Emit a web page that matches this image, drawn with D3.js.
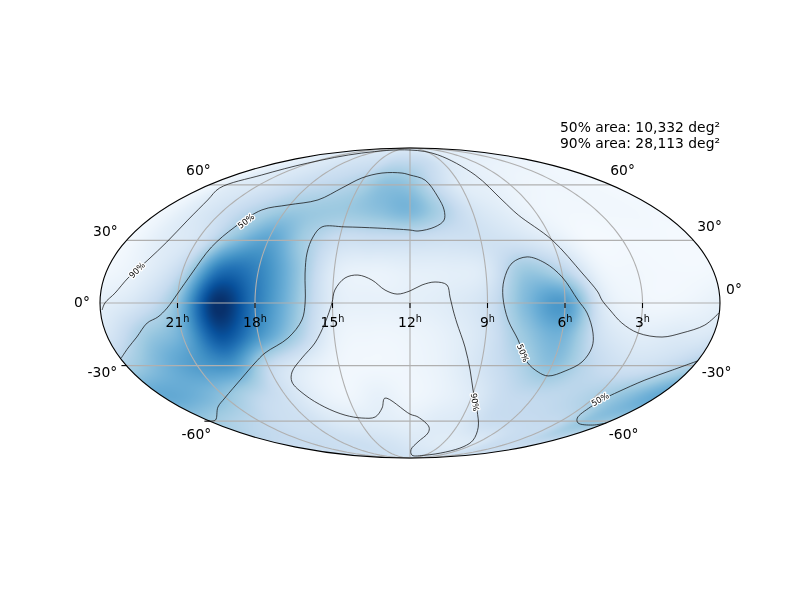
<!DOCTYPE html>
<html><head><meta charset="utf-8">
<script src="https://cdn.jsdelivr.net/npm/d3@7"></script>
<style>
html,body{margin:0;padding:0;background:#fff}
#wrap{position:relative;width:800px;height:600px;overflow:hidden}
canvas,svg{position:absolute;left:0;top:0}
text{font-family:"DejaVu Sans",sans-serif;fill:#000}
</style></head><body><div id="wrap"><canvas id="heat" width="800" height="600"></canvas><svg id="chart" width="800" height="600"></svg></div>
<script>
// Probability density (0..1 of colour range)
const gridRA = [0,1.5,3,4.5,6,7.5,9,10.5,12,13.5,15,16.5,18,19.5,21,22.5,24];
const gridDec = [90,75,60,45,30,15,0,-15,-30,-45,-60,-75,-90];
const rowN90 = [.13,.13,.13,.13,.13,.13,.13,.13,.13,.13,.13,.13,.13,.13,.13,.13,.13];
const rowN75 = [.05,.05,.06,.07,.08,.1,.16,.24,.27,.27,.22,.2,.18,.15,.13,.1,.05];
const rowN60 = [.03,.03,.04,.04,.06,.09,.12,.25,.4,.42,.33,.28,.25,.2,.15,.12,.03];
const rowN45 = [.03,.03,.03,.03,.05,.11,.18,.33,.46,.42,.38,.38,.38,.3,.2,.12,.03];
const rowN30 = [.02,.02,.02,.02,.11,.18,.2,.2,.22,.22,.22,.36,.55,.42,.18,.11,.02];
const rowN15 = [.03,.02,.03,.06,.3,.38,.14,.1,.09,.07,.12,.42,.68,.75,.28,.1,.03];
const rowEq  = [.09,.04,.04,.13,.58,.45,.2,.12,.09,.08,.12,.42,.72,1,.42,.18,.09];
const rowS15 = [.16,.13,.11,.2,.48,.38,.18,.09,.05,.04,.08,.35,.62,.88,.5,.36,.16];
const rowS30 = [.33,.22,.2,.28,.42,.3,.18,.08,.04,.03,.04,.12,.27,.6,.58,.47,.33];
const rowS45 = [.52,.42,.33,.28,.27,.24,.13,.07,.04,.08,.04,.09,.2,.3,.42,.5,.52];
const rowS60 = [.38,.4,.27,.25,.24,.22,.14,.12,.09,.11,.12,.14,.2,.22,.27,.32,.38];
const rowS75 = [.25,.25,.24,.22,.15,.12,.12,.13,.15,.18,.2,.22,.22,.23,.24,.24,.25];
const rowS90 = [.2,.2,.2,.2,.2,.2,.2,.2,.2,.2,.2,.2,.2,.2,.2,.2,.2];
const densityRows = [rowN90,rowN75,rowN60,rowN45,rowN30,rowN15,rowEq,rowS15,rowS30,rowS45,rowS60,rowS75,rowS90];

// Credible-region contours as [RA hours, Dec degrees]
const contour90Outer = [[23.93,-3.3],[23.81,0],[23.44,4.7],[23.06,11.8],[22.56,20.4],[22.24,29.2],[22.18,40.3],[22.48,51.2],[22.99,58.1],[22.18,66.2],[21.2,74.6],[19.37,83.2],[12,86.6],[8.35,81.5],[7.53,66.2],[7.23,51.2],[6.91,43],[5.98,30.2],[5.21,14.17],[4.71,5.2],[4.57,1.4],[4.25,-3.3],[3.73,-9.43],[3,-14.17],[2,-16.1],[1.27,-14.17],[.47,-10.4],[.02,-4.71]];
const contour90Inner = [[15.02,0],[14.92,6.1],[14.55,11.8],[14.05,13.2],[13.49,10.85],[12.97,6.1],[12.5,4.2],[12,5.7],[11.53,8.5],[11.02,9.9],[10.56,8.5],[10.45,2.8],[10.33,-3.3],[10.17,-9.43],[9.78,-20.9],[9.42,-32.2],[9.05,-42.5],[8.41,-53.5],[7.59,-63.7],[6.76,-72.5],[6.48,-77.4],[6.98,-82.3],[8.94,-85.6],[11.59,-85.6],[11.88,-80.1],[11.3,-73.8],[10.72,-67.5],[10.77,-63.7],[11.54,-57.5],[12,-55.8],[13.23,-46.8],[13.47,-52.3],[13.99,-57.5],[14.78,-58.1],[15.64,-56.4],[16.45,-51.8],[17.05,-45.1],[17.31,-38.3],[17.1,-33.2],[16.47,-26.2],[15.81,-18.96],[15.32,-9.43]];
const contour50Main = [[23.95,-26.2],[23.41,-21.4],[22.84,-16.1],[22.26,-9.43],[21.8,-6.6],[21.41,-2.4],[21,4.71],[20.6,14.17],[20.24,26.7],[19.78,36.8],[19.17,45.7],[18.1,48.4],[16.77,51.2],[15.93,58.1],[15.15,64.3],[13.99,67.5],[12.57,67.5],[12,66.2],[11.04,62.9],[10.52,52.9],[10.35,45.7],[10.44,40.3],[10.89,36.8],[11.65,34.7],[12,35.2],[13.42,36.2],[14.89,36.8],[15.91,36.8],[16.15,31.7],[16.21,23.8],[16.14,14.17],[16.06,0],[16.21,-8],[16.85,-16.6],[17.93,-23.8],[18.51,-28.7],[19.43,-36.2],[21.08,-46.8],[22.04,-51.8],[23.48,-59.3],[24,-59.9]];
const contour50Lobe = [[7.25,21.9],[7.91,18.96],[8.32,10.85],[8.4,2.8],[8.18,-8],[7.69,-17.5],[7.1,-28.2],[6.46,-33.2],[5.94,-35.2],[5.32,-32.7],[4.8,-28.2],[4.65,-20.9],[4.78,-14.17],[5.13,-4.71],[5.5,1.4],[6.03,12.3],[6.59,18.96]];
const contour50South = [[0,-27.7],[.73,-32.2],[1.52,-37.3],[2.17,-43.5],[2.43,-46.8],[2.58,-51.8],[2.34,-58.1],[1.73,-61.1],[.54,-62.4],[0,-61.1]];
const contourLabels = [
  {text:"90%",ra:22.82,dec:15.6,angle:-45},
  {text:"50%",ra:19.49,dec:39.9,angle:-38},
  {text:"90%",ra:8.73,dec:-49,angle:82},
  {text:"50%",ra:7.38,dec:-23.8,angle:68},
  {text:"50%",ra:2.62,dec:-47.4,angle:-30}];

const raTicks = [21,18,15,12,9,6,3];
const meridians = [21,18,15,12,9,6,3];
const parallels = [60,30,0,-30,-60];
const decTicksLeft = [-30,-60];
const decLabelsLeft  = [{dec:60,t:"60°",dx:-11,dy:-15},{dec:30,t:"30°",dx:-21,dy:-9},{dec:0,t:"0°",dx:-18,dy:-1},{dec:-30,t:"-30°",dx:-24,dy:6},{dec:-60,t:"-60°",dx:-13,dy:13}];
const decLabelsRight = [{dec:60,t:"60°",dx:12,dy:-15},{dec:30,t:"30°",dx:16,dy:-14},{dec:0,t:"0°",dx:14,dy:-14},{dec:-30,t:"-30°",dx:23,dy:6},{dec:-60,t:"-60°",dx:13,dy:13}];
const areaLines = ["50% area: 10,332 deg²","90% area: 28,113 deg²"];
const bluesStops = ["#f7fbff","#deebf7","#c6dbef","#9ecae1","#6baed6","#4292c6","#2171b5","#08519c","#08306b"];

// Mollweide
function mollweideRaw(l,p){
  let t=p;const k=Math.PI*Math.sin(p);
  if(Math.abs(Math.abs(p)-Math.PI/2)<1e-9){t=p;}
  else for(let i=0;i<30;i++){const d=(t*2+Math.sin(2*t)-k)/(2+2*Math.cos(2*t));t-=d;if(Math.abs(d)<1e-9)break;}
  return [2*Math.SQRT2/Math.PI*l*Math.cos(t),Math.SQRT2*Math.sin(t)];
}
mollweideRaw.invert=function(x,y){
  const t=Math.asin(Math.max(-1,Math.min(1,y/Math.SQRT2)));
  return [Math.PI*x/(2*Math.SQRT2*Math.max(Math.cos(t),1e-9)),Math.asin(Math.max(-1,Math.min(1,(2*t+Math.sin(2*t))/Math.PI)))];
};
const cx=410,cy=303,rx=310,ry=155;
const projection=d3.geoProjection(mollweideRaw).scale(rx/(2*Math.SQRT2)).translate([cx,cy]);
const raToLon=d3.scaleLinear().domain([0,24]).range([180,-180]);
const xy=(ra,dec)=>projection([raToLon(ra),dec]);

// Colour
const colour=d3.scaleLinear().domain(bluesStops.map((_,i)=>i/8)).range(bluesStops).clamp(true);
const lut=d3.range(1025).map(i=>d3.rgb(colour(i/1024)));

// Heat map
const raIdx=d3.scaleLinear().domain([d3.min(gridRA),d3.max(gridRA)]).range([0,gridRA.length-1]);
const decIdx=d3.scaleLinear().domain([d3.max(gridDec),d3.min(gridDec)]).range([0,gridDec.length-1]);
const cr=(a,b,c,d,t)=>.5*((2*b)+(-a+c)*t+(2*a-5*b+4*c-d)*t*t+(-a+3*b-3*c+d)*t*t*t);
const nc=gridRA.length-1;
function val(r,c){r=Math.max(0,Math.min(densityRows.length-1,r));c=((c%nc)+nc)%nc;return densityRows[r][c];}
function density(ra,dec){
  const u=raIdx(ra),v=decIdx(dec);const i=Math.floor(u),j=Math.floor(v),fu=u-i,fv=v-j;
  const rowsV=[-1,0,1,2].map(m=>cr(val(j+m,i-1),val(j+m,i),val(j+m,i+1),val(j+m,i+2),fu));
  return cr(rowsV[0],rowsV[1],rowsV[2],rowsV[3],fv);
}
const ctx=document.getElementById("heat").getContext("2d");
const img=ctx.createImageData(800,600);
for(let y=cy-ry-1;y<=cy+ry+1;y++)for(let x=cx-rx-1;x<=cx+rx+1;x++){
  const nx=(x+.5-cx)/rx,ny=(y+.5-cy)/ry;
  if(nx*nx+ny*ny>1)continue;
  const g=projection.invert([x+.5,y+.5]);
  const ra=raToLon.invert(Math.max(-180,Math.min(180,g[0])));
  const c=lut[Math.round(Math.max(0,Math.min(1,density(ra,g[1])))*1024)];
  const k=(y*800+x)*4;img.data[k]=c.r;img.data[k+1]=c.g;img.data[k+2]=c.b;img.data[k+3]=255;
}
ctx.putImageData(img,0,0);

// Overlay
const svg=d3.select("#chart");
const gridLine=d3.line().x(d=>d[0]).y(d=>d[1]);
const grid=svg.append("g").attr("fill","none").attr("stroke","#b0b0b0").attr("stroke-width",1.1);
grid.selectAll("path.m").data(meridians).join("path").attr("class","m")
  .attr("d",ra=>gridLine(d3.range(-90,90.5,1.5).map(dec=>xy(ra,dec))));
grid.selectAll("path.p").data(parallels).join("path").attr("class","p")
  .attr("d",dec=>gridLine([0,24].map(ra=>xy(ra,dec))));

const contourPath=curve=>d3.line().x(d=>xy(d[0],d[1])[0]).y(d=>xy(d[0],d[1])[1]).curve(curve);
const curveOpen=contourPath(d3.curveCatmullRom.alpha(.5));
const curveClosed=contourPath(d3.curveCatmullRomClosed.alpha(.5));
const lines=svg.append("g").attr("fill","none").attr("stroke","#111").attr("stroke-width",.75);
[contour90Outer,contour50Main,contour50South].forEach(c=>lines.append("path").attr("d",curveOpen(c)));
[contour90Inner,contour50Lobe].forEach(c=>lines.append("path").attr("d",curveClosed(c)));

svg.append("g").selectAll("text").data(contourLabels).join("text")
  .attr("transform",d=>{const p=xy(d.ra,d.dec);return `translate(${p[0]},${p[1]}) rotate(${d.angle})`;})
  .attr("text-anchor","middle").attr("dominant-baseline","central").attr("font-size",8.3)
  .attr("stroke","#fff").attr("stroke-width",2.6).attr("paint-order","stroke").attr("stroke-linejoin","round").text(d=>d.text);

// RA ticks and labels
const ticks=svg.append("g");
ticks.selectAll("line").data(raTicks).join("line")
  .attr("x1",d=>xy(d,0)[0]).attr("x2",d=>xy(d,0)[0]).attr("y1",cy).attr("y2",cy+5)
  .attr("stroke","#000").attr("stroke-width",1.1);
const raText=ticks.selectAll("text").data(raTicks).join("text")
  .attr("x",d=>xy(d,0)[0]).attr("y",cy+24).attr("text-anchor","middle").attr("font-size",13.89);
raText.append("tspan").text(d=>d);
raText.append("tspan").attr("font-size",9.7).attr("dy",-5).text("h");

// Dec ticks on the left edge
svg.append("g").selectAll("line").data(decTicksLeft).join("line")
  .attr("x1",d=>xy(24,d)[0]-5).attr("x2",d=>xy(24,d)[0]).attr("y1",d=>xy(24,d)[1]).attr("y2",d=>xy(24,d)[1])
  .attr("stroke","#000").attr("stroke-width",1.1);

// Outline
svg.append("ellipse").attr("cx",cx).attr("cy",cy).attr("rx",rx).attr("ry",ry)
  .attr("fill","none").attr("stroke","#000").attr("stroke-width",1.1);

// Dec labels
const decG=svg.append("g").attr("font-size",13.89).attr("text-anchor","middle");
decG.selectAll("text.l").data(decLabelsLeft).join("text").attr("class","l")
  .attr("x",d=>xy(24,d.dec)[0]+d.dx).attr("y",d=>xy(24,d.dec)[1]+d.dy).attr("dominant-baseline","central").text(d=>d.t);
decG.selectAll("text.r").data(decLabelsRight).join("text").attr("class","r")
  .attr("x",d=>xy(0,d.dec)[0]+d.dx).attr("y",d=>xy(0,d.dec)[1]+d.dy).attr("dominant-baseline","central").text(d=>d.t);

// Area annotation
svg.append("g").attr("font-size",13.89).attr("text-anchor","end").selectAll("text").data(areaLines).join("text")
  .attr("x",cx+rx).attr("y",(d,i)=>132+i*16).text(d=>d);
</script></body></html>
